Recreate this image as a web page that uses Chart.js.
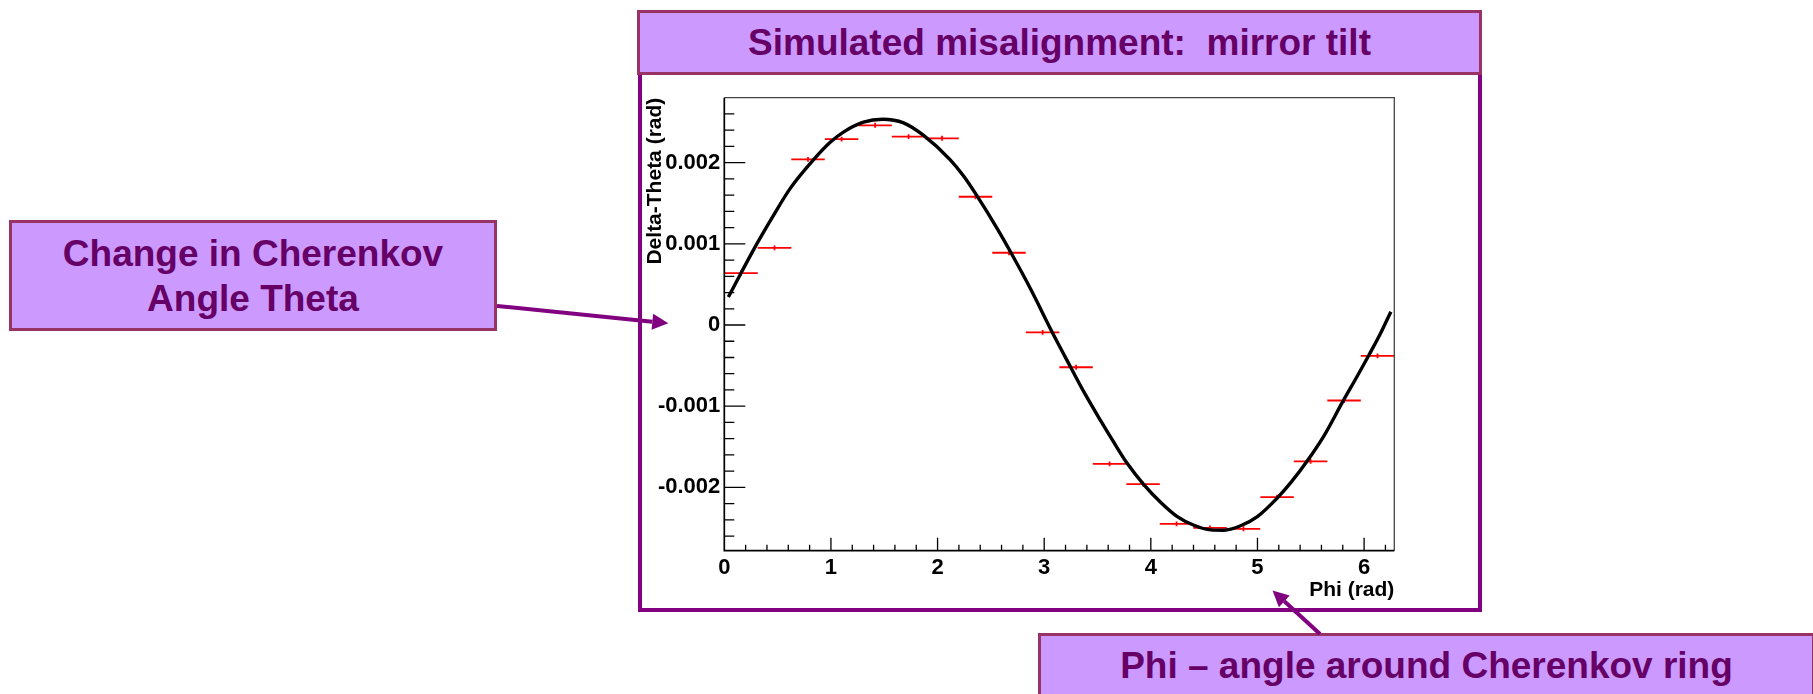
<!DOCTYPE html>
<html>
<head>
<meta charset="utf-8">
<title>Simulated misalignment: mirror tilt</title>
<script src="https://cdn.jsdelivr.net/npm/chart.js@4.4.0/dist/chart.umd.min.js"></script>
<style>
  body { margin: 0; width: 1813px; height: 694px; overflow: hidden; background: #fff; position: relative;
         font-family: "Liberation Sans", Arial, sans-serif; }
  #myChart { position: absolute; left: 0; top: 0; }
  .frame { position: absolute; left: 637.5px; top: 10px; width: 844px; height: 602px;
           box-sizing: border-box; border: 4px solid #800080; }
  .box { position: absolute; box-sizing: border-box; background: #cc99ff; border: 3px solid #993366;
         color: #660066; font-weight: bold; font-size: 37px; text-align: center; white-space: pre;
         display: flex; align-items: center; justify-content: center; }
  #titleBox { left: 637px; top: 10px; width: 845px; height: 65px; }
  #thetaBox { left: 9px; top: 220px; width: 488px; height: 111px; line-height: 45px; }
  #phiBox { left: 1038px; top: 633px; width: 777px; height: 68px; align-items: flex-start; padding-top: 9px; }
  #arrows { position: absolute; left: 0; top: 0; }
</style>
</head>
<body>
<canvas id="myChart" width="1813" height="694"></canvas>
<div class="frame"></div>
<div class="box" id="titleBox">Simulated misalignment:  mirror tilt</div>
<div class="box" id="thetaBox">Change in Cherenkov
Angle Theta</div>
<div class="box" id="phiBox">Phi – angle around Cherenkov ring</div>
<svg id="arrows" width="1813" height="694"></svg>

<script>
// histogram: 20 bins in phi, delta-theta per bin
const binCenters = [0.157, 0.471, 0.785, 1.100, 1.414, 1.728, 2.042, 2.356, 2.670, 2.985,
                    3.299, 3.613, 3.927, 4.241, 4.555, 4.869, 5.184, 5.498, 5.812, 6.126];
const binHalfWidth = 0.157;
const binValues = [0.00064, 0.00095, 0.00204, 0.00229, 0.00246, 0.00232, 0.00230, 0.00158, 0.00089, -0.00009,
                   -0.00052, -0.00171, -0.00196, -0.00245, -0.00250, -0.00251, -0.00212, -0.00168, -0.00093, -0.00038];
const binErrors = [0.00003, 0.00003, 0.00003, 0.00003, 0.00003, 0.00003, 0.00003, 0.00003, 0.00003, 0.00003,
                   0.00003, 0.00003, 0.00003, 0.00003, 0.00003, 0.00003, 0.00003, 0.00003, 0.00003, 0.00003];

// fit curve
const fitPhi = [0.038, 0.288, 0.460, 0.617, 0.821, 0.993, 1.117, 1.305, 1.484, 1.681,
                1.869, 2.119, 2.244, 2.370, 2.558, 2.699, 2.870, 3.074, 3.246, 3.371,
                3.528, 3.655, 3.778, 3.934, 4.091, 4.248, 4.404, 4.561, 4.686, 4.842,
                4.999, 5.187, 5.312, 5.468, 5.625, 5.797, 5.938, 6.047, 6.157, 6.251];
const fitTheta = [0.000345, 0.000960, 0.001348, 0.001680, 0.002012, 0.002250, 0.002376, 0.002498, 0.002535, 0.002490,
                  0.002335, 0.002035, 0.001835, 0.001590, 0.001190, 0.000865, 0.000450, -0.000085, -0.000514, -0.000821,
                  -0.001175, -0.001450, -0.001704, -0.001966, -0.002183, -0.002360, -0.002467, -0.002524, -0.002528, -0.002473,
                  -0.002360, -0.002129, -0.001942, -0.001672, -0.001362, -0.000950, -0.000625, -0.000366, -0.000095, 0.000164];

// axis ranges
const phiRange = [0, 6.2832];
const thetaRange = [-0.00278, 0.0028];

const labelFont = { family: 'Liberation Sans, Arial, sans-serif', size: 22, weight: 'bold' };
const titleFont = { family: 'Liberation Sans, Arial, sans-serif', size: 21, weight: 'bold' };

// red bins under the curve, ticks and box drawn ROOT style (ticks pointing inward)
const rootFrame = {
  id: 'rootFrame',
  beforeDatasetsDraw(chart) {
    const { ctx, scales: { x, y } } = chart;
    ctx.save();
    ctx.strokeStyle = '#ff0000';
    ctx.lineWidth = 1.8;
    binCenters.forEach((c, i) => {
      const py = y.getPixelForValue(binValues[i]);
      const px = x.getPixelForValue(c);
      ctx.beginPath();
      ctx.moveTo(x.getPixelForValue(c - binHalfWidth), py);
      ctx.lineTo(x.getPixelForValue(c + binHalfWidth), py);
      ctx.moveTo(px, y.getPixelForValue(binValues[i] - binErrors[i]));
      ctx.lineTo(px, y.getPixelForValue(binValues[i] + binErrors[i]));
      ctx.stroke();
    });
    ctx.restore();
  },
  afterDraw(chart) {
    const { ctx, chartArea: a, scales: { x, y } } = chart;
    ctx.save();
    // top/right of the frame
    ctx.strokeStyle = '#444';
    ctx.lineWidth = 1.3;
    ctx.beginPath();
    ctx.moveTo(a.left, a.top);
    ctx.lineTo(a.right, a.top);
    ctx.lineTo(a.right, a.bottom);
    ctx.stroke();
    // axes
    ctx.strokeStyle = '#000';
    ctx.lineWidth = 1.7;
    ctx.beginPath();
    ctx.moveTo(a.left, a.top);
    ctx.lineTo(a.left, a.bottom);
    ctx.lineTo(a.right, a.bottom);
    ctx.stroke();
    // y ticks every 0.0002
    ctx.lineWidth = 1.3;
    ctx.beginPath();
    for (let k = -14; k <= 14; k++) {
      const py = y.getPixelForValue(k * 0.0002);
      if (py < a.top + 2 || py > a.bottom - 2) continue;
      const len = k % 5 === 0 ? 21 : 10;
      ctx.moveTo(a.left, py);
      ctx.lineTo(a.left + len, py);
    }
    // x ticks every 0.2
    for (let k = 1; k <= 31; k++) {
      const px = x.getPixelForValue(k * 0.2);
      if (px > a.right - 2) continue;
      const len = k % 5 === 0 ? 13 : 6;
      ctx.moveTo(px, a.bottom);
      ctx.lineTo(px, a.bottom - len);
    }
    ctx.stroke();
    ctx.restore();
  }
};

const ctx = document.getElementById('myChart');

new Chart(ctx, {
  type: 'line',
  data: {
    datasets: [{
      label: 'fit',
      data: fitPhi.map((p, i) => ({ x: p, y: fitTheta[i] })),
      borderColor: '#000',
      borderWidth: 3.4,
      pointRadius: 0,
      cubicInterpolationMode: 'monotone',
      fill: false
    }]
  },
  options: {
    responsive: false,
    animation: false,
    devicePixelRatio: 1,
    layout: { padding: { left: 640, top: 97.7, right: 418.7, bottom: 83.6 } },
    plugins: { legend: { display: false }, tooltip: { enabled: false } },
    scales: {
      x: {
        type: 'linear',
        min: phiRange[0],
        max: phiRange[1],
        grid: { display: false, drawTicks: false },
        border: { display: false },
        ticks: { stepSize: 1, includeBounds: false, padding: 4, color: '#000', font: labelFont,
                 maxRotation: 0, callback: v => String(v) },
        title: { display: true, text: 'Phi (rad)', align: 'end', color: '#000', font: titleFont,
                 padding: { top: 0, bottom: 8 } },
        afterFit: s => { s.height = 59.7; }
      },
      y: {
        type: 'linear',
        min: thetaRange[0],
        max: thetaRange[1],
        grid: { display: false, drawTicks: false },
        border: { display: false },
        ticks: { stepSize: 0.001, includeBounds: false, padding: 4, color: '#000', font: labelFont,
                 callback: v => String(+v.toFixed(3)) },
        title: { display: true, text: 'Delta-Theta (rad)', align: 'end', color: '#000', font: titleFont,
                 padding: { top: 3, bottom: 0 } },
        afterFit: s => { s.width = 84.3; }
      }
    }
  },
  plugins: [rootFrame]
});

// purple pointer arrows from the labels to the axes
const svg = document.getElementById('arrows');
function arrow(x1, y1, x2, y2) {
  const dx = x2 - x1, dy = y2 - y1, len = Math.hypot(dx, dy);
  const ux = dx / len, uy = dy / len;
  const bx = x2 - 16 * ux, by = y2 - 16 * uy;
  const line = document.createElementNS('http://www.w3.org/2000/svg', 'line');
  line.setAttribute('x1', x1); line.setAttribute('y1', y1);
  line.setAttribute('x2', bx); line.setAttribute('y2', by);
  line.setAttribute('stroke', '#800080'); line.setAttribute('stroke-width', 4);
  svg.appendChild(line);
  const head = document.createElementNS('http://www.w3.org/2000/svg', 'polygon');
  head.setAttribute('points', [x2, y2, bx - 8 * uy, by + 8 * ux, bx + 8 * uy, by - 8 * ux].join(' '));
  head.setAttribute('fill', '#800080');
  svg.appendChild(head);
}
arrow(497, 306, 668.3, 323.3);
arrow(1320, 634, 1272.5, 590.5);
</script>
</body>
</html>
